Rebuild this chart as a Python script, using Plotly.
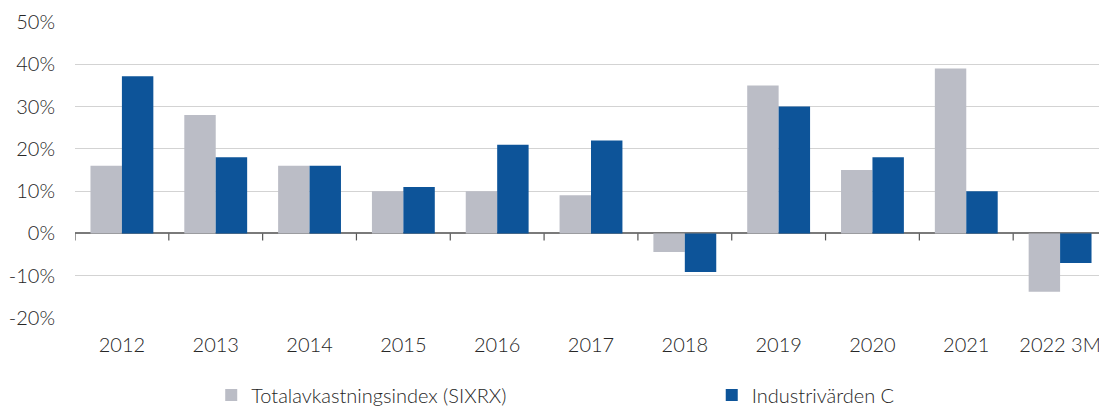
import plotly.graph_objects as go

categories = ["2012", "2013", "2014", "2015", "2016", "2017", "2018", "2019", "2020", "2021", "2022 3M"]
sixrx = [16, 28, 16, 10, 10, 9, -4.4, 35, 15, 39, -13.8]
industrivarden = [37.2, 18, 16, 11, 21, 22, -9.1, 30, 18, 10, -7.0]
y_ticks = [-20, -10, 0, 10, 20, 30, 40, 50]
y_tick_labels = [f"{v}%" for v in y_ticks]

GRAY = "#BBBDC6"
BLUE = "#0D5499"
FONT = dict(family="Lato", size=20, color="#262626", weight=300)

fig = go.Figure()
fig.add_trace(go.Bar(x=categories, y=sixrx, name="Totalavkastningsindex (SIXRX)",
                     marker=dict(color=GRAY, line=dict(width=0)), legend="legend"))
fig.add_trace(go.Bar(x=categories, y=industrivarden, name="Industrivärden C",
                     marker=dict(color=BLUE, line=dict(width=0)), legend="legend2"))

# category boundary tick marks on the zero line
shapes = []
for i in range(len(categories) + 1):
    shapes.append(dict(type="line", xref="x", yref="y", x0=i - 0.5, x1=i - 0.5,
                       ysizemode="pixel", yanchor=0, y0=0, y1=-7,
                       line=dict(color="#555555", width=1.2)))

leg_common = dict(orientation="h", xanchor="left", y=-0.26, yanchor="middle",
                  font=FONT, itemclick=False, itemdoubleclick=False,
                  bgcolor="rgba(0,0,0,0)")

# the page body has an 8px margin: the figure is offset accordingly
fig.update_layout(
    width=1099, height=398,
    margin=dict(l=67, r=0, t=14, b=88, autoexpand=False),
    paper_bgcolor="white", plot_bgcolor="white",
    barmode="group", bargap=0.33, bargroupgap=0,
    font=FONT,
    shapes=shapes,
    showlegend=True,
    legend=dict(x=0.132, **leg_common),
    legend2=dict(x=0.617, **leg_common),
    xaxis=dict(type="category", categoryorder="array", categoryarray=categories,
               showgrid=False, showline=False, ticks="", zeroline=False,
               ticklabelstandoff=13, tickfont=FONT, automargin=False,
               range=[-0.5, len(categories) - 0.5]),
    yaxis=dict(range=[-20, 50], tickvals=y_ticks, ticktext=y_tick_labels,
               showgrid=True, gridcolor="#D3D3D3", gridwidth=1.3,
               zeroline=True, zerolinecolor="#7A7A7A", zerolinewidth=2,
               showline=False, ticks="", ticklabelstandoff=19, tickfont=FONT,
               automargin=False),
)

fig.write_html("out.html")
